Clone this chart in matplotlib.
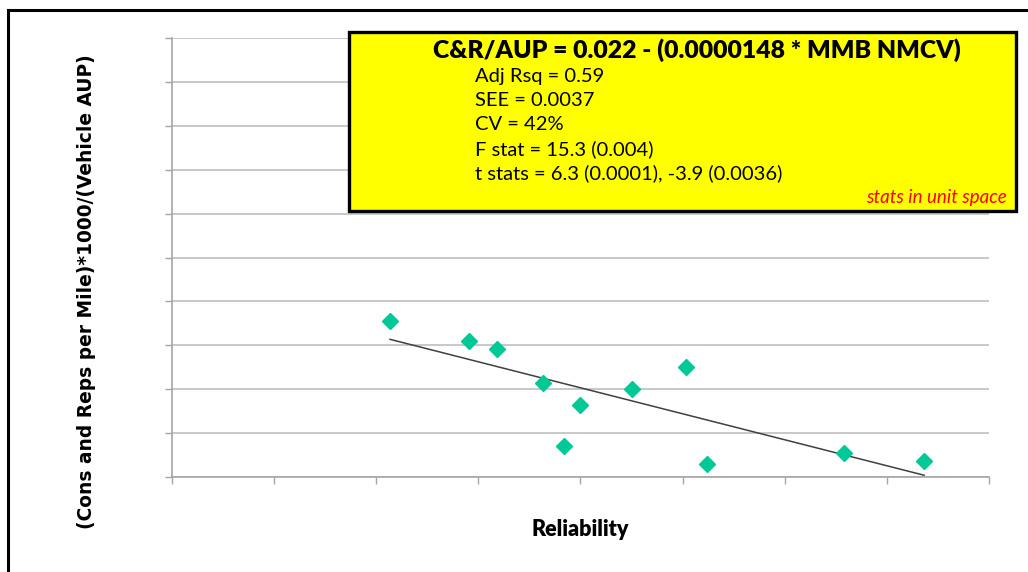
import numpy as np
import matplotlib
matplotlib.use('Agg')
import matplotlib.pyplot as plt
from matplotlib.patches import Rectangle
from matplotlib.lines import Line2D

# MMB NMCV (reliability) vs cons & reps cost per mile per vehicle AUP
mmb_nmcv = [427, 582, 637, 727, 768, 799, 901, 1007, 1048, 1316, 1473]
cr_aup = [0.01777, 0.01549, 0.01458, 0.01071, 0.00353, 0.0082,
          0.01002, 0.01253, 0.00148, 0.00273, 0.00182]

# regression coefficients
intercept = 0.022
slope = -0.0000148

stats_lines = [
    'Adj Rsq = 0.59',
    'SEE = 0.0037',
    'CV = 42%',
    'F stat = 15.3 (0.004)',
    't stats = 6.3 (0.0001), -3.9 (0.0036)',
]

W, H = 1028, 572
fig = plt.figure(figsize=(W / 100, H / 100), dpi=100)
ax = fig.add_axes([172 / W, 1 - 477 / H, (989 - 172) / W, (477 - 38) / H])

grid_col = '#bfbfbf'
ax.set_xlim(0, 1600)
ax.set_ylim(0, 0.05)
ax.set_xticks(np.arange(0, 1601, 200))
ax.set_yticks(np.arange(0, 0.0501, 0.005))
ax.set_xticklabels([])
ax.set_yticklabels([])
ax.yaxis.grid(True, color=grid_col, linewidth=1.2)
ax.set_axisbelow(True)
ax.tick_params(direction='out', length=5, width=1, color='#a6a6a6')
for side in ['top', 'right']:
    ax.spines[side].set_visible(False)
for side in ['left', 'bottom']:
    ax.spines[side].set_color('#a6a6a6')
    ax.spines[side].set_linewidth(1.2)

ax.plot(mmb_nmcv, cr_aup, linestyle='none', marker='D', markersize=8,
        color='#00c896', markeredgecolor='#00c896', zorder=3)

xfit = np.array([min(mmb_nmcv), max(mmb_nmcv)])
ax.plot(xfit, intercept + slope * xfit, color='#404040', linewidth=1.1, zorder=2)

ax.set_xlabel('Reliability', fontsize=15.5, fontweight='heavy', family='Lato',
              labelpad=22)
fig.text(87 / W, 1 - 292 / H, '(Cons and Reps per Mile)*1000/(Vehicle AUP)',
         rotation=90, ha='center', va='center', fontsize=13.4,
         fontweight='bold', family='DejaVu Sans')

# outer frame (top and left edges)
fig.add_artist(Line2D([8 / W, 8 / W], [0, 1 - 10 / H], color='black',
                      linewidth=2.2, transform=fig.transFigure))
fig.add_artist(Line2D([8 / W, 1], [1 - 10 / H, 1 - 10 / H], color='black',
                      linewidth=2.2, transform=fig.transFigure))

# equation box
fig.add_artist(Rectangle((349 / W, 1 - 211 / H), (1016 - 349) / W, (211 - 32) / H,
                         facecolor='#ffff00', edgecolor='black', linewidth=2.4,
                         transform=fig.transFigure, zorder=5))
fig.text(697 / W, 1 - 50 / H, 'C&R/AUP = 0.022 - (0.0000148 * MMB NMCV)',
         ha='center', va='center', fontsize=17.8, fontweight='heavy',
         family='Lato', zorder=6)
for i, line in enumerate(stats_lines):
    fig.text(475 / W, 1 - (76 + 24.4 * i) / H, line, ha='left', va='center',
             fontsize=14.5, family='Lato', zorder=6)
fig.text(1007 / W, 1 - 198 / H, 'stats in unit space', ha='right', va='center',
         fontsize=13.5, style='italic', color='#ff0000', family='Lato', zorder=6)

fig.savefig('out.png', dpi=100)
